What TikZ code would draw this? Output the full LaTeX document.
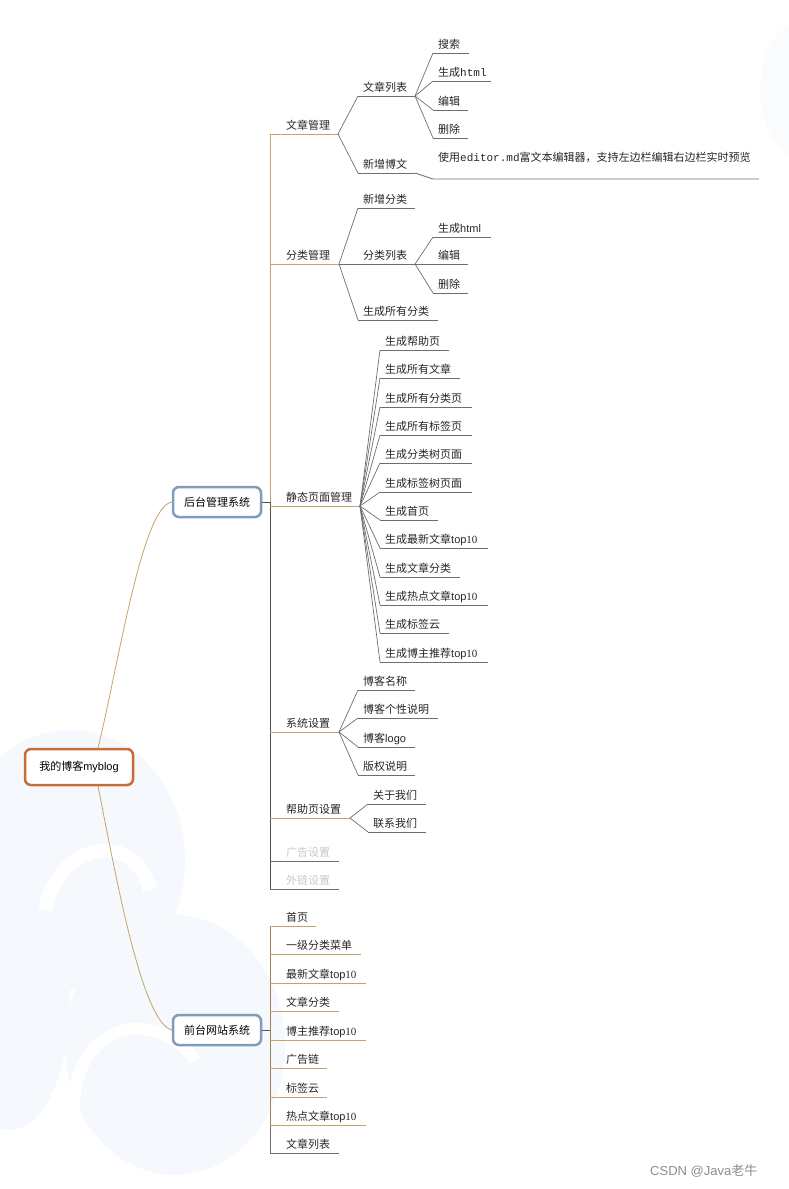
\documentclass[tikz,border=0pt]{standalone}
\usepackage{fontspec}
\setmainfont{Noto Sans CJK SC}
\setmonofont{Liberation Mono}
\newfontfamily\latinsf{Liberation Sans}
\newfontfamily\latinrm{Liberation Serif}

\definecolor{goldline}{RGB}{196,164,104}
\definecolor{darkline}{RGB}{80,80,80}
\definecolor{greyline}{RGB}{110,110,110}
\definecolor{rootborder}{RGB}{200,108,58}
\definecolor{mainborder}{RGB}{128,156,186}
\definecolor{bgblue}{RGB}{245,248,252}
\definecolor{fadedtext}{RGB}{200,200,200}

\tikzset{
  rootbox/.style={draw=rootborder, line width=2.5pt, rounded corners=6pt, fill=white,
    minimum width=108pt, minimum height=36pt, font=\fontsize{11}{13}\selectfont},
  mainbox/.style={draw=mainborder, line width=2.5pt, rounded corners=6pt, fill=white,
    minimum width=88pt, minimum height=30pt, font=\fontsize{11}{13}\selectfont},
  itemtext/.style={anchor=base west, inner sep=0pt, text=black!85,
    font=\fontsize{11}{13}\selectfont},
  goldrule/.style={goldline, line width=1pt},
  greyrule/.style={greyline, line width=0.8pt},
  link/.style={greyline, line width=0.7pt},
  curve/.style={goldline, line width=0.8pt}
}

% name, x start, x end, y, rule style, text x, text
\newcommand{\leafitem}[7]{%
  \coordinate (#1-s) at (#2,#4);
  \coordinate (#1-e) at (#3,#4);
  \draw[#5] (#1-s) -- (#1-e);
  \node[itemtext] (#1) at ([yshift=5pt]#6,#4) {#7};
}

\begin{document}
\begin{tikzpicture}[x=1pt, y=-1pt]
  \useasboundingbox (0,0) rectangle (788,1189);

  % faint background
  \fill[bgblue] (70,860) ellipse (115 and 130);
  \fill[bgblue] (175,1045) ellipse (110 and 130);
  \fill[bgblue] (10,1000) ellipse (60 and 130);
  \fill[bgblue!60] (805,90) ellipse (45 and 70);
  \draw[white, line width=14pt] (45,910) .. controls (60,840) and (135,830) .. (150,890);
  \draw[white, line width=12pt] (75,1120) .. controls (65,1030) and (150,1000) .. (195,1060);

  % main boxes
  \node[rootbox] (root) at (79,767) {我的博客{\latinsf myblog}};
  \node[mainbox] (hou) at (217,502) {后台管理系统};
  \node[mainbox] (qian) at (217,1030) {前台网站系统};

  \draw[curve] ([xshift=19pt]root.north) .. controls +(20,-80) and +(-30,5) .. (hou.west);
  \draw[curve] ([xshift=19pt]root.south) .. controls +(18,90) and +(-30,-8) .. (qian.west);

  % back end trunk
  \coordinate (hou-j) at (270,502);
  \draw[darkline, line width=1pt] (hou.east) -- (hou-j);
  \draw[goldline, line width=1pt] (270,134) -- (hou-j);
  \draw[darkline, line width=1pt] (hou-j) -- (270,889);

  \leafitem{wzgl}{270}{338}{134}{goldrule}{286}{文章管理}
  \leafitem{flgl}{270}{339}{264}{goldrule}{286}{分类管理}
  \leafitem{jtym}{270}{360}{506}{goldrule}{286}{静态页面管理}
  \leafitem{xtsz}{270}{339}{732}{goldrule}{286}{系统设置}
  \leafitem{bzy}{270}{350}{818}{goldrule}{286}{帮助页设置}
  \leafitem{ggsz}{270}{339}{861}{greyrule}{286}{\textcolor{fadedtext}{广告设置}}
  \leafitem{wlsz}{270}{339}{889}{greyrule}{286}{\textcolor{fadedtext}{外链设置}}

  % articles
  \leafitem{wzlb}{358}{415}{96}{greyrule}{363}{文章列表}
  \leafitem{xzbw}{358}{415}{173}{greyrule}{363}{新增博文}
  \draw[link] (wzgl-e) -- (wzlb-s);
  \draw[link] (wzgl-e) -- (xzbw-s);
  \foreach \n/\y/\e/\t in {ss/53/469/搜索, wzhtml/81/491/生成\texttt{html},
      wzbj/110/468/编辑, wzsc/138/468/删除} {
    \leafitem{\n}{433}{\e}{\y}{greyrule}{438}{\t}
    \draw[link] (wzlb-e) -- (\n-s);
  }
  \coordinate (desc-s) at (433,179);
  \coordinate (desc-e) at (759,179);
  \draw[greyrule] (xzbw-e) -- (desc-s) -- (desc-e);
  \node[itemtext] (desc) at (438,161) {使用\texttt{editor.md}富文本编辑器，支持左边栏编辑右边栏实时预览};

  % categories
  \leafitem{xzfl}{358}{415}{208}{greyrule}{363}{新增分类}
  \leafitem{fllb}{358}{415}{264}{greyrule}{363}{分类列表}
  \leafitem{scfl}{358}{438}{320}{greyrule}{363}{生成所有分类}
  \foreach \n in {xzfl, fllb, scfl}
    \draw[link] (flgl-e) -- (\n-s);
  \foreach \n/\y/\e/\t in {flhtml/237/491/生成{\latinsf html}, flbj/264/468/编辑,
      flsc/293/468/删除} {
    \leafitem{\n}{433}{\e}{\y}{greyrule}{438}{\t}
    \draw[link] (fllb-e) -- (\n-s);
  }

  % static pages
  \foreach \y/\e/\t [count=\i] in {350/449/生成帮助页, 378/460/生成所有文章,
      407/472/生成所有分类页, 435/472/生成所有标签页, 463/472/生成分类树页面,
      492/472/生成标签树页面, 520/438/生成首页,
      548/488/生成最新文章{\latinsf top}{\latinrm 10}, 577/460/生成文章分类,
      605/488/生成热点文章{\latinsf top}{\latinrm 10}, 633/449/生成标签云,
      662/488/生成博主推荐{\latinsf top}{\latinrm 10}} {
    \leafitem{jt\i}{380}{\e}{\y}{greyrule}{385}{\t}
    \draw[link] (jtym-e) -- (jt\i-s);
  }

  % settings
  \foreach \y/\e/\t [count=\i] in {690/415/博客名称, 718/438/博客个性说明,
      747/415/博客{\latinsf logo}, 775/415/版权说明} {
    \leafitem{xt\i}{358}{\e}{\y}{greyrule}{363}{\t}
    \draw[link] (xtsz-e) -- (xt\i-s);
  }
  \foreach \y/\t [count=\i] in {804/关于我们, 832/联系我们} {
    \leafitem{bz\i}{368}{426}{\y}{greyrule}{373}{\t}
    \draw[link] (bzy-e) -- (bz\i-s);
  }

  % front end
  \coordinate (qian-j) at (270,1030);
  \draw[darkline, line width=1pt] (qian.east) -- (qian-j);
  \draw[goldline!80!black, line width=1pt] (270,926) -- (270,1125);
  \draw[greyline, line width=1pt] (270,1125) -- (270,1153);
  \foreach \y/\e/\t [count=\i] in {926/316/首页, 954/361/一级分类菜单,
      983/366/最新文章{\latinsf top}{\latinrm 10}, 1011/339/文章分类,
      1040/366/博主推荐{\latinsf top}{\latinrm 10}, 1068/327/广告链, 1097/327/标签云,
      1125/366/热点文章{\latinsf top}{\latinrm 10}} {
    \leafitem{qt\i}{270}{\e}{\y}{goldrule}{286}{\t}
  }
  \leafitem{qt9}{270}{339}{1153}{greyrule}{286}{文章列表}

  % watermark
  \node[anchor=west, inner sep=0pt, text=black!45, font=\latinsf\fontsize{13}{15}\selectfont]
    (mark) at (650,1171) {CSDN @Java{\rmfamily 老牛}};
\end{tikzpicture}
\end{document}
